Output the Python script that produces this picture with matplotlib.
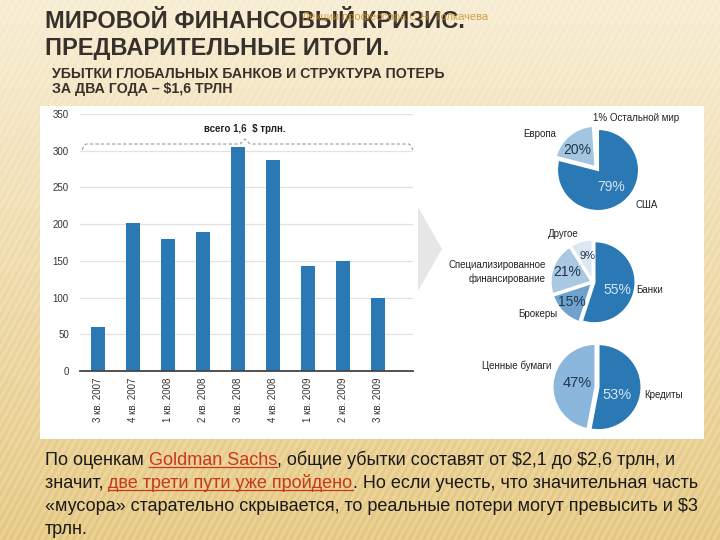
import numpy as np
import matplotlib
matplotlib.use("Agg")
import matplotlib.pyplot as plt
from matplotlib.patches import Rectangle, Polygon

plt.rcParams['font.family'] = ['Liberation Sans', 'DejaVu Sans']

# --- data ---
quarters = ['3 кв. 2007', '4 кв. 2007', '1 кв. 2008', '2 кв. 2008', '3 кв. 2008',
            '4 кв. 2008', '1 кв. 2009', '2 кв. 2009', '3 кв. 2009']
losses = [60, 202, 180, 189, 305, 287, 143, 150, 99]

region_labels = ['США', 'Европа', 'Остальной мир']
region_shares = [79, 20, 1]

inst_labels = ['Банки', 'Брокеры', 'Специализированное\nфинансирование', 'Другое']
inst_shares = [55, 15, 21, 9]

asset_labels = ['Кредиты', 'Ценные бумаги']
asset_shares = [53, 47]

W, H = 720, 540
fig = plt.figure(figsize=(7.2, 5.4), dpi=100)

# --- background ---
bg = fig.add_axes([0, 0, 1, 1])
bg.set_xlim(0, W)
bg.set_ylim(H, 0)
bg.axis('off')
yy, xx = np.mgrid[0:H, 0:W]
t = (yy / H)[..., None]
top_c = np.array([248, 238, 213]) / 255
bot_c = np.array([231, 204, 138]) / 255
img = top_c * (1 - t) + bot_c * t
stripes = np.sin((xx + yy * 0.55) * 2 * np.pi / 7.0)[..., None] * 0.018 * (0.4 + t)
img = np.clip(img + stripes, 0, 1)
bg.imshow(img, extent=[0, W, H, 0], aspect='auto', zorder=0)
bg.set_xlim(0, W)
bg.set_ylim(H, 0)

bg.add_patch(Rectangle((40, 106), 664, 333, facecolor='white', edgecolor='none', zorder=1))
bg.add_patch(Polygon([(418, 207), (442, 249), (418, 291)], closed=True,
                     facecolor='#e6e6e6', edgecolor='none', zorder=2))

# --- bar chart ---
ax = fig.add_axes([80 / W, 1 - 371 / H, 333 / W, 257 / H])
ax.set_facecolor('none')
x = np.arange(len(quarters))
ax.bar(x, losses, width=0.4, color='#2a78b4', zorder=3)
ax.set_xlim(-0.514, 9.0)
ax.set_ylim(0, 350)
ax.set_yticks(range(0, 351, 50))
ax.set_xticks(x)
ax.set_xticklabels(quarters, rotation=90, fontsize=7, color='#333333')
ax.tick_params(axis='y', length=0, pad=8, labelsize=7, labelcolor='#333333')
ax.tick_params(axis='x', length=0, pad=5)
ax.grid(axis='y', color='#e2e2e2', linewidth=0.9, zorder=0)
for s in ['left', 'right', 'top']:
    ax.spines[s].set_visible(False)
ax.spines['bottom'].set_color('#444444')
ax.spines['bottom'].set_linewidth(1.3)
ax.spines['bottom'].set_zorder(4)


# --- pies ---
def pie_axes(cx, cy, R=52):
    pa = fig.add_axes([(cx - R) / W, 1 - (cy + R) / H, 2 * R / W, 2 * R / H])
    pa.axis('off')
    return pa, R


def fix_limits(pa, R):
    pa.set_xlim(-R, R)
    pa.set_ylim(-R, R)
    pa.set_aspect('equal')


wp = dict(edgecolor='white', linewidth=1.5)
p1, R = pie_axes(598, 170)
p1.pie(region_shares, radius=41, startangle=90, counterclock=False,
       colors=['#2a78b4', '#a3c5df', '#dbe8f2'], explode=[0, 4, 4], wedgeprops=wp)
fix_limits(p1, R)
p2, R = pie_axes(593, 282)
p2.pie(inst_shares, radius=41, startangle=90, counterclock=False,
       colors=['#2a78b4', '#6fa3cd', '#a9c8e1', '#dce7f1'], explode=[1.5, 1.5, 1.5, 1.5], wedgeprops=wp)
fix_limits(p2, R)
p3, R = pie_axes(597, 387)
p3.pie(asset_shares, radius=43, startangle=90, counterclock=False,
       colors=['#2a78b4', '#8ab7db'], explode=[1.5, 1.5], wedgeprops=wp)
fix_limits(p3, R)

# --- overlay for texts ---
ov = fig.add_axes([0, 0, 1, 1], zorder=10)
ov.set_xlim(0, W)
ov.set_ylim(H, 0)
ov.axis('off')
ov.patch.set_visible(False)

title_c = '#38302a'
ov.text(45, 21, 'МИРОВОЙ ФИНАНСОВЫЙ КРИЗИС.', fontsize=17, fontweight='bold', color=title_c, va='center')
ov.text(45, 48, 'ПРЕДВАРИТЕЛЬНЫЕ ИТОГИ.', fontsize=17, fontweight='bold', color=title_c, va='center')
ov.text(52, 74, 'УБЫТКИ ГЛОБАЛЬНЫХ БАНКОВ И СТРУКТУРА ПОТЕРЬ', fontsize=10.2, fontweight='bold', color=title_c, va='center')
ov.text(52, 89, r'ЗА ДВА ГОДА – \$1,6 ТРЛН', fontsize=10.2, fontweight='bold', color=title_c, va='center')
ov.text(302, 17, 'Лекции профессора С.Н. Толкачева', fontsize=8, color='#c9922e', alpha=0.85, va='center')

# total bracket
ov.plot([82, 84, 86, 240, 245, 250, 409, 411, 413], [150, 146, 144, 144, 139, 144, 144, 146, 150],
        linestyle=(0, (3, 2)), color='#9a9a9a', linewidth=0.8)
ov.text(245, 129, r'всего 1,6  \$ трлн.', fontsize=7, fontweight='bold', color='#222222', ha='center', va='center')

lab = dict(fontsize=7, color='#222222', va='center')
# pie 1 labels
ov.text(593, 118, '1% ' + region_labels[2], ha='left', **lab)
ov.text(540, 134, region_labels[1], ha='center', **lab)
ov.text(635, 205, region_labels[0], ha='left', **lab)
ov.text(577, 150, f'{region_shares[1]}%', ha='center', fontsize=10, color='#1f3550', va='center')
ov.text(611, 187, f'{region_shares[0]}%', ha='center', fontsize=10, color='#d5e6f3', va='center')
# pie 2 labels
ov.text(563, 234, inst_labels[3], ha='center', **lab)
ov.text(546, 272, inst_labels[2], ha='right', linespacing=1.45, **lab)
ov.text(636, 290, inst_labels[0], ha='left', **lab)
ov.text(538, 314, inst_labels[1], ha='center', **lab)
ov.text(588, 256, f'{inst_shares[3]}%', ha='center', fontsize=8, color='#1f3550', va='center')
ov.text(567, 272, f'{inst_shares[2]}%', ha='center', fontsize=10, color='#1f3550', va='center')
ov.text(572, 302, f'{inst_shares[1]}%', ha='center', fontsize=10, color='#1f3550', va='center')
ov.text(617, 290, f'{inst_shares[0]}%', ha='center', fontsize=10, color='#d5e6f3', va='center')
# pie 3 labels
ov.text(517, 366, asset_labels[1], ha='center', **lab)
ov.text(644, 395, asset_labels[0], ha='left', **lab)
ov.text(577, 383, f'{asset_shares[1]}%', ha='center', fontsize=10.5, color='#1f3550', va='center')
ov.text(617, 395, f'{asset_shares[0]}%', ha='center', fontsize=10.5, color='#d5e6f3', va='center')

# --- paragraph with links ---
fig.canvas.draw()
renderer = fig.canvas.get_renderer()
FS = 13
link_c = '#c8381c'


def text_width(s):
    a = ov.text(0, 0, s + '|', fontsize=FS)
    b = ov.text(0, 0, '|', fontsize=FS)
    w = a.get_window_extent(renderer).width - b.get_window_extent(renderer).width
    a.remove()
    b.remove()
    return w


lines = [
    [('По оценкам ', False), ('Goldman Sachs', True), (r', общие убытки составят от \$2,1 до \$2,6 трлн, и', False)],
    [('значит, ', False), ('две трети пути уже пройдено', True), ('. Но если учесть, что значительная часть', False)],
    [(r'«мусора» старательно скрывается, то реальные потери могут превысить и \$3', False)],
    [('трлн.', False)],
]
y0 = 465
for i, segs in enumerate(lines):
    y = y0 + i * 23
    xpos = 45
    for s, link in segs:
        ov.text(xpos, y, s, fontsize=FS, color=link_c if link else '#1a1a1a', va='baseline')
        w = text_width(s)
        if link:
            ov.plot([xpos, xpos + w], [y + 2, y + 2], color=link_c, linewidth=0.9)
        xpos += w

fig.savefig('out.png', dpi=100)
